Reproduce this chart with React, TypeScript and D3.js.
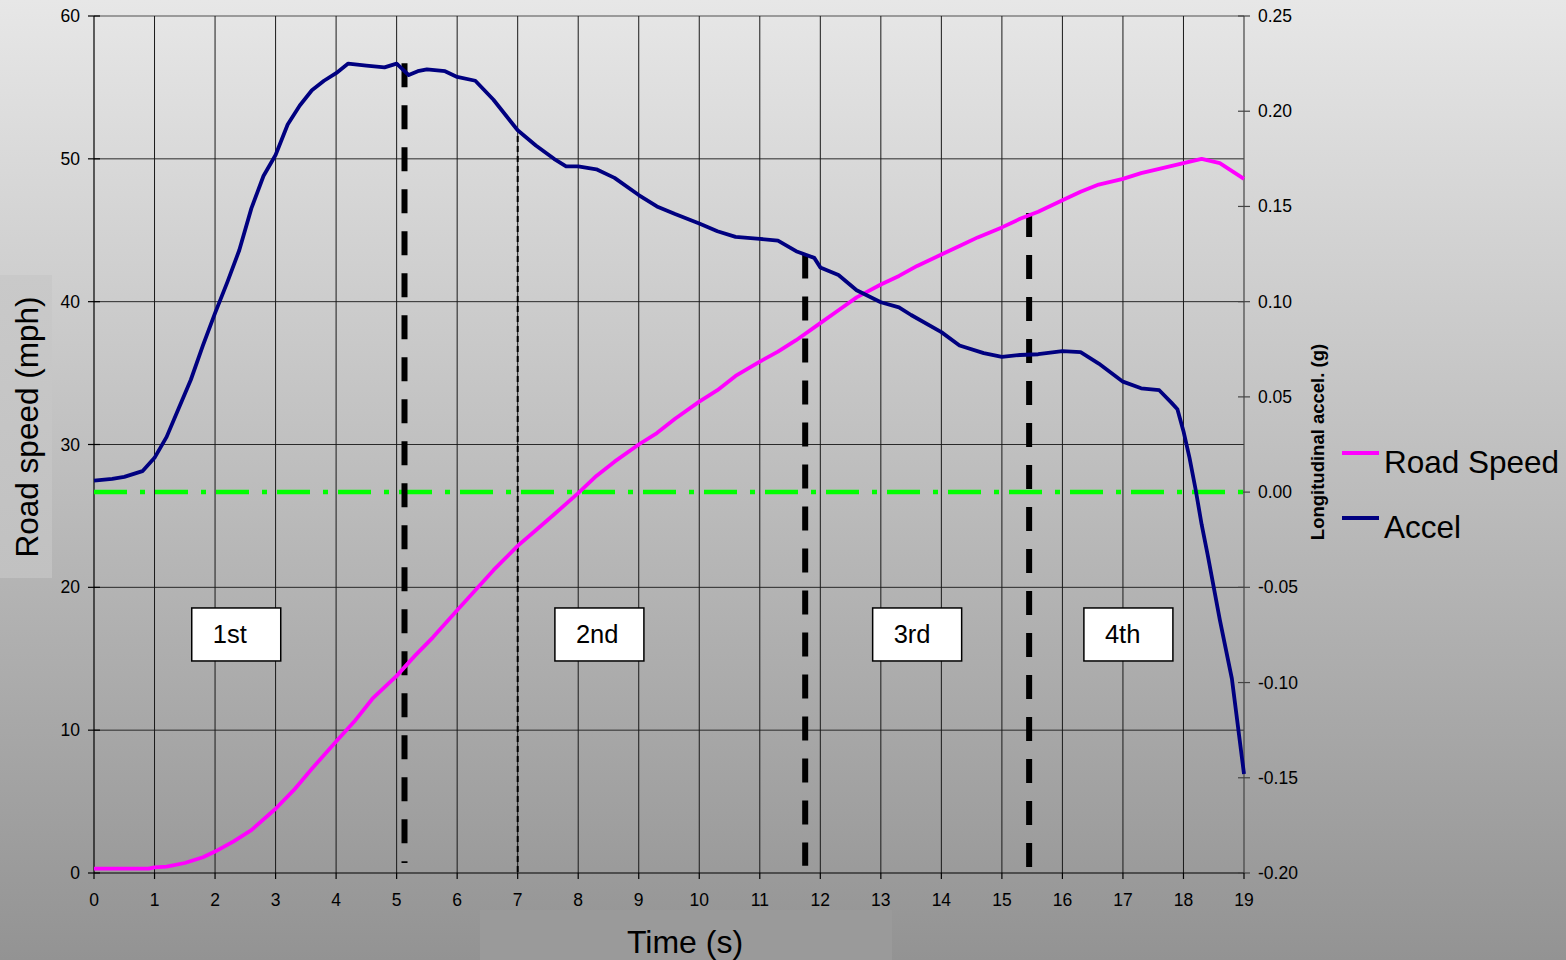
import React from "react";
import * as d3 from "d3";

const speedT = [0, 0.5, 0.9, 1.0, 1.2, 1.5, 1.8, 2.0, 2.3, 2.6, 3.0, 3.3, 3.6, 4.0, 4.3, 4.6, 5.0, 5.3, 5.6, 6.0, 6.3, 6.6, 7.0, 7.3, 7.6, 8.0, 8.3, 8.6, 9.0, 9.3, 9.6, 10.0, 10.3, 10.6, 11.0, 11.3, 11.6, 12.0, 12.3, 12.6, 13.0, 13.3, 13.6, 14.0, 14.3, 14.6, 15.0, 15.3, 15.6, 16.0, 16.3, 16.6, 17.0, 17.3, 17.6, 18.0, 18.3, 18.6, 19.0];
const speedV = [0.3, 0.3, 0.3, 0.4, 0.45, 0.7, 1.1, 1.5, 2.2, 3.0, 4.5, 5.8, 7.3, 9.2, 10.6, 12.2, 13.8, 15.2, 16.5, 18.4, 19.8, 21.2, 22.9, 24.0, 25.1, 26.6, 27.8, 28.8, 30.0, 30.8, 31.8, 33.0, 33.8, 34.8, 35.8, 36.5, 37.3, 38.5, 39.4, 40.3, 41.2, 41.8, 42.5, 43.3, 43.9, 44.5, 45.2, 45.8, 46.3, 47.1, 47.7, 48.2, 48.6, 49.0, 49.3, 49.7, 50.0, 49.7, 48.6];

const accelT = [0, 0.3, 0.5, 0.8, 1.0, 1.2, 1.4, 1.6, 1.8, 2.0, 2.2, 2.4, 2.6, 2.8, 3.0, 3.2, 3.4, 3.6, 3.8, 4.0, 4.2, 4.5, 4.8, 5.0, 5.1, 5.2, 5.35, 5.5, 5.8, 6.0, 6.3, 6.6, 7.0, 7.3, 7.6, 7.8, 8.0, 8.3, 8.6, 9.0, 9.3, 9.6, 10.0, 10.3, 10.6, 11.0, 11.3, 11.6, 11.9, 12.0, 12.3, 12.6, 13.0, 13.3, 13.5, 14.0, 14.3, 14.7, 15.0, 15.3, 15.6, 16.0, 16.3, 16.6, 17.0, 17.3, 17.6, 17.8, 17.9, 18.0, 18.1, 18.2, 18.3, 18.4, 18.6, 18.8, 19.0];
const accelV = [0.006, 0.007, 0.008, 0.011, 0.018, 0.029, 0.044, 0.059, 0.077, 0.094, 0.11, 0.127, 0.149, 0.166, 0.177, 0.193, 0.203, 0.211, 0.216, 0.22, 0.225, 0.224, 0.223, 0.225, 0.222, 0.219, 0.221, 0.222, 0.221, 0.218, 0.216, 0.206, 0.19, 0.182, 0.175, 0.171, 0.171, 0.1695, 0.165, 0.156, 0.15, 0.146, 0.141, 0.137, 0.134, 0.133, 0.132, 0.1265, 0.123, 0.118, 0.114, 0.106, 0.0997, 0.097, 0.093, 0.084, 0.077, 0.073, 0.071, 0.072, 0.0724, 0.074, 0.0735, 0.0675, 0.058, 0.0545, 0.0535, 0.047, 0.0435, 0.032, 0.018, 0.0015, -0.017, -0.033, -0.067, -0.098, -0.148];

const xTicks = d3.range(0, 20);
const yLeftTicks = [0, 10, 20, 30, 40, 50, 60];
const yRightTicks = [-0.2, -0.15, -0.1, -0.05, 0, 0.05, 0.1, 0.15, 0.2, 0.25];

// gear change markers: time, top speed (mph), bottom speed (mph)
const shiftT = [5.13, 11.75, 15.45];
const shiftTop = [56.7, 43.3, 46.2];
const shiftBottom = [0.7, 0.5, 0.2];
// thin dashed line
const thinShiftT = 7.0;
const thinShiftTop = 51.6;

const gearLabels = ["1st", "2nd", "3rd", "4th"];
const gearCenters = [2.35, 8.35, 13.6, 17.09];
const gearLabelSpeed = 16.7;

const W = 1566, H = 960;
const L = 94, R = 1244, T = 16, B = 873;

export default function App() {
  const x = d3.scaleLinear().domain([0, 19]).range([L, R]);
  const yL = d3.scaleLinear().domain([0, 60]).range([B, T]);
  const yR = d3.scaleLinear().domain([-0.2, 0.25]).range([B, T]);

  const speedLine = d3.line<number>().x((d, i) => x(speedT[i])).y((d) => yL(d));
  const accelLine = d3.line<number>().x((d, i) => x(accelT[i])).y((d) => yR(d));

  const font = "'Liberation Sans', Arial, sans-serif";
  const boxW = 89, boxH = 53;
  const fmtR = (v: number) => (Math.abs(v) < 1e-9 ? 0 : v).toFixed(2);

  return (
    <svg width={W} height={H} style={{ position: "absolute", left: 0, top: 0, display: "block" }} fontFamily={font}>
      <defs>
        <linearGradient id="bg" x1="0" y1="0" x2="0" y2="1">
          <stop offset="0" stopColor="#e7e7e7" />
          <stop offset="1" stopColor="#939393" />
        </linearGradient>
        <linearGradient id="ybox" x1="0" y1="0" x2="0" y2="1">
          <stop offset="0" stopColor="#c9c9c9" />
          <stop offset="1" stopColor="#c1c1c1" />
        </linearGradient>
      </defs>
      <rect x={0} y={0} width={W} height={H} fill="url(#bg)" />
      <rect x={0} y={275} width={52} height={303} fill="url(#ybox)" />
      <rect x={480} y={910} width={412} height={50} fill="#9a9a9a" />

      {/* horizontal grid */}
      {yLeftTicks.filter((v) => v > 0 && v < 60).map((v) => (
        <line key={"hg" + v} x1={L} x2={R} y1={yL(v)} y2={yL(v)} stroke="#2a2a2a" strokeWidth={1} />
      ))}
      <line x1={L} x2={R} y1={T} y2={T} stroke="#808080" strokeWidth={1.5} />
      {/* vertical grid */}
      {xTicks.filter((v) => v > 0 && v < 19).map((v) => (
        <line key={"vg" + v} x1={x(v)} x2={x(v)} y1={T} y2={B} stroke="#1a1a1a" strokeWidth={1} />
      ))}
      {/* axes */}
      <line x1={L} x2={L} y1={T} y2={B} stroke="#000" strokeWidth={1.2} />
      <line x1={R} x2={R} y1={T} y2={B} stroke="#444" strokeWidth={1.2} />
      <line x1={L} x2={R} y1={B} y2={B} stroke="#000" strokeWidth={1.2} />

      {yLeftTicks.map((v) => (
        <g key={"yl" + v}>
          <line x1={88} x2={100} y1={yL(v)} y2={yL(v)} stroke="#000" strokeWidth={1.2} />
          <text x={80} y={yL(v) + 6} textAnchor="end" fontSize={17.5} fill="#000">{v}</text>
        </g>
      ))}
      {yRightTicks.map((v) => (
        <g key={"yr" + v}>
          <line x1={1238} x2={1250} y1={yR(v)} y2={yR(v)} stroke="#444" strokeWidth={1.2} />
          <text x={1258} y={yR(v) + 6} textAnchor="start" fontSize={17.5} fill="#000">{fmtR(v)}</text>
        </g>
      ))}
      {xTicks.map((v) => (
        <g key={"xt" + v}>
          <line x1={x(v)} x2={x(v)} y1={B} y2={B + 6} stroke="#000" strokeWidth={1.2} />
          <text x={x(v)} y={906} textAnchor="middle" fontSize={17.5} fill="#000">{v}</text>
        </g>
      ))}

      {/* zero accel line */}
      <line x1={L} x2={R} y1={yR(0)} y2={yR(0)} stroke="#00ff00" strokeWidth={4.5} strokeDasharray="33 13 5 10" />

      {/* gear shift markers */}
      {shiftT.map((t, i) => (
        <line key={"sh" + i} x1={x(t)} x2={x(t)} y1={yL(shiftTop[i])} y2={yL(shiftBottom[i])} stroke="#000" strokeWidth={6} strokeDasharray="24 18" />
      ))}
      <line x1={x(thinShiftT)} x2={x(thinShiftT)} y1={yL(thinShiftTop)} y2={B} stroke="#000" strokeWidth={2} strokeDasharray="6 4" />

      {/* gear labels */}
      {gearLabels.map((g, i) => (
        <g key={g}>
          <rect x={x(gearCenters[i]) - boxW / 2} y={yL(gearLabelSpeed) - boxH / 2} width={boxW} height={boxH} fill="#fff" stroke="#000" strokeWidth={1.5} />
          <text x={x(gearCenters[i]) - boxW / 2 + 21} y={yL(gearLabelSpeed) + 9} fontSize={25.5} fill="#000">{g}</text>
        </g>
      ))}

      {/* series */}
      <path d={speedLine(speedV) || ""} fill="none" stroke="#ff00ff" strokeWidth={3.8} strokeLinejoin="round" />
      <path d={accelLine(accelV) || ""} fill="none" stroke="#000080" strokeWidth={3.8} strokeLinejoin="round" />

      {/* titles */}
      <text transform="translate(38,427) rotate(-90)" textAnchor="middle" fontSize={31.5} fill="#000">Road speed (mph)</text>
      <text x={685} y={953} textAnchor="middle" fontSize={32} fill="#000">Time (s)</text>
      <text transform="translate(1324,442) rotate(-90)" textAnchor="middle" fontSize={18.5} fontWeight="bold" fill="#000">Longitudinal accel. (g)</text>

      {/* legend */}
      <line x1={1342} x2={1379} y1={453} y2={453} stroke="#ff00ff" strokeWidth={3.8} />
      <text x={1384} y={473} fontSize={31.5} fill="#000">Road Speed</text>
      <line x1={1342} x2={1379} y1={518} y2={518} stroke="#000080" strokeWidth={3.8} />
      <text x={1384} y={538} fontSize={31.5} fill="#000">Accel</text>
    </svg>
  );
}
